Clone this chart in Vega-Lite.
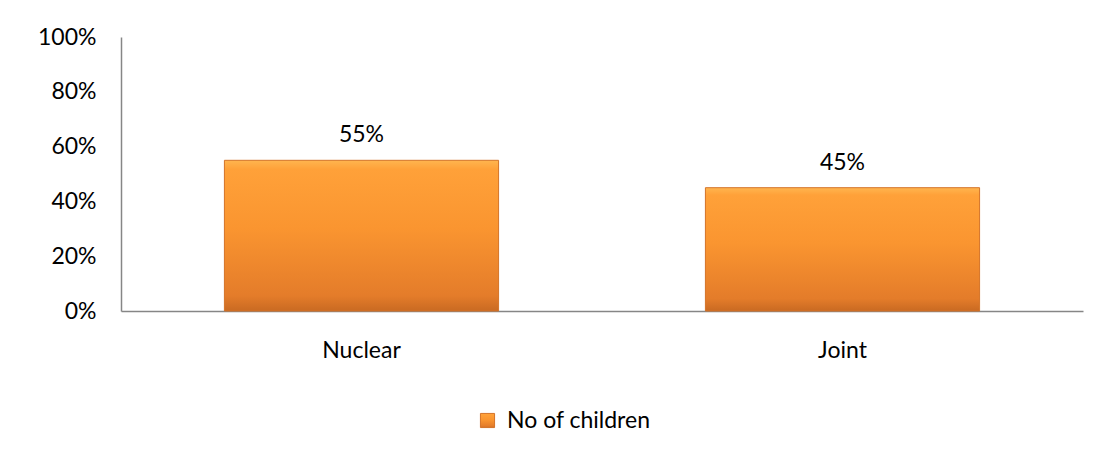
{
  "$schema": "https://vega.github.io/schema/vega-lite/v6.json",
  "width": 962,
  "height": 274,
  "autosize": {"type": "none"},
  "padding": {"left": 121, "top": 37, "right": 22, "bottom": 145},
  "background": "#ffffff",
  "config": {
    "view": {"stroke": null},
    "font": "Lato",
    "axis": {"labelFont": "Lato", "labelFontSize": 23, "labelColor": "#000000", "domainColor": "#868686", "domainWidth": 1.5, "ticks": false, "grid": false, "title": null},
    "legend": {"labelFont": "Lato", "labelFontSize": 23, "labelColor": "#000000"}
  },
  "data": {"values": [
    {"type": "Nuclear", "value": 0.55, "series": "No of children"},
    {"type": "Joint", "value": 0.45, "series": "No of children"}
  ]},
  "layer": [
    {
      "mark": {
        "type": "bar",
        "fill": {"gradient": "linear", "x1": 0, "y1": 0, "x2": 0, "y2": 1, "stops": [
          {"offset": 0, "color": "#FFB54F"},
          {"offset": 0.06, "color": "#FFA139"},
          {"offset": 0.45, "color": "#FA9530"},
          {"offset": 0.9, "color": "#E47C2A"},
          {"offset": 1, "color": "#C96A22"}
        ]},
        "strokeWidth": 1
      },
      "encoding": {
        "x": {"field": "type", "type": "nominal", "sort": null,
              "scale": {"paddingInner": 0.43, "paddingOuter": 0.215},
              "axis": {"labelAngle": 0, "labelPadding": 28}},
        "y": {"field": "value", "type": "quantitative",
              "scale": {"domain": [0, 1], "nice": false},
              "axis": {"values": [0, 0.2, 0.4, 0.6, 0.8, 1], "format": ".0%", "labelPadding": 25}},
        "stroke": {"field": "series", "type": "nominal", "scale": {"range": ["#D47328"]},
                   "legend": {"title": null, "orient": "none", "legendX": 355, "legendY": 372, "symbolType": "square", "symbolSize": 200, "symbolFillColor": "#F0892E", "symbolStrokeColor": "#C96A22", "symbolStrokeWidth": 1, "labelOffset": 8}}
      }
    },
    {
      "mark": {"type": "text", "fontSize": 23, "font": "Lato", "color": "#000000", "baseline": "alphabetic", "dy": -18},
      "encoding": {
        "x": {"field": "type", "type": "nominal", "sort": null},
        "y": {"field": "value", "type": "quantitative"},
        "text": {"field": "value", "type": "quantitative", "format": ".0%"}
      }
    }
  ]
}
